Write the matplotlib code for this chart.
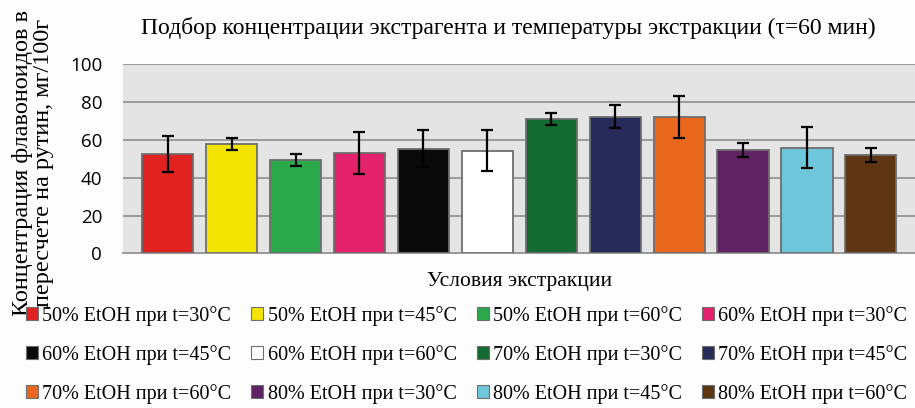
import matplotlib.pyplot as plt
from matplotlib.patches import Patch

# values
labels = ["50% EtOH при t=30°C", "50% EtOH при t=45°C", "50% EtOH при t=60°C",
          "60% EtOH при t=30°C", "60% EtOH при t=45°C", "60% EtOH при t=60°C",
          "70% EtOH при t=30°C", "70% EtOH при t=45°C", "70% EtOH при t=60°C",
          "80% EtOH при t=30°C", "80% EtOH при t=45°C", "80% EtOH при t=60°C"]
values = [52.4, 57.8, 49.5, 53.0, 55.4, 54.4, 71.1, 72.4, 72.1, 54.8, 56.0, 52.1]
errors = [9.5, 3.1, 3.0, 11.1, 9.8, 10.9, 3.3, 5.9, 11.0, 3.9, 10.7, 3.6]
colors = ["#e02321", "#f2e300", "#2aa84a", "#e4226c", "#0a0a0a", "#ffffff",
          "#126b30", "#262b5a", "#e9681e", "#5f2263", "#6ec6da", "#5f3613"]

plt.rcParams['font.family'] = ['Liberation Serif', 'DejaVu Serif']

fig = plt.figure(figsize=(9.15, 4.08), dpi=100)
ax = fig.add_axes([0.1344, 0.3787, 0.8656, 0.4633])
ax.set_facecolor("#e4e4e4")

x = list(range(len(values)))
ax.bar(x, values, width=0.8, color=colors, edgecolor="#6e6e6e", linewidth=1.3,
       yerr=errors, capsize=4,
       error_kw=dict(ecolor="black", elinewidth=1.6, capthick=1.6), zorder=3)

ax.set_ylim(0, 100)
ax.set_xlim(-0.70, 11.69)
ax.set_yticks([0, 20, 40, 60, 80, 100])
ax.set_xticks([])
ax.yaxis.grid(True, color="#9a9a9a", linewidth=1.4, zorder=0)
ax.set_axisbelow(True)
for s in ["top", "right", "left"]:
    ax.spines[s].set_visible(False)
ax.spines["bottom"].set_color("#9a9a9a")
ax.spines["bottom"].set_linewidth(1.4)
ax.tick_params(axis="y", length=0, pad=15)
for t in ax.get_yticklabels():
    t.set_fontfamily("Open Sans")
    t.set_fontsize(13.5)

fig.text(0.556, 0.931, "Подбор концентрации экстрагента и температуры экстракции (τ=60 мин)",
         ha="center", va="center", fontsize=17)
ax.set_ylabel("Концентрация флавоноидов в\nпересчете на рутин, мг/100г",
              fontsize=17.5, linespacing=1.0)
ax.yaxis.set_label_coords(-0.087, 0.479)
fig.text(0.568, 0.311, "Условия экстракции", ha="center", va="center", fontsize=15.5)

order = [0, 4, 8, 1, 5, 9, 2, 6, 10, 3, 7, 11]
handles = [Patch(facecolor=colors[i], edgecolor="#6e6e6e", linewidth=0.8) for i in order]
fig.legend(handles, [labels[i] for i in order], loc="upper center",
           bbox_to_anchor=(0.51, 0.27), ncol=4, frameon=False, fontsize=14.5,
           handlelength=0.6, handleheight=0.6, handletextpad=0.2,
           columnspacing=1.0, labelspacing=0.95, borderaxespad=0)

fig.savefig("out.png", dpi=100, facecolor="#fdfdfd")
